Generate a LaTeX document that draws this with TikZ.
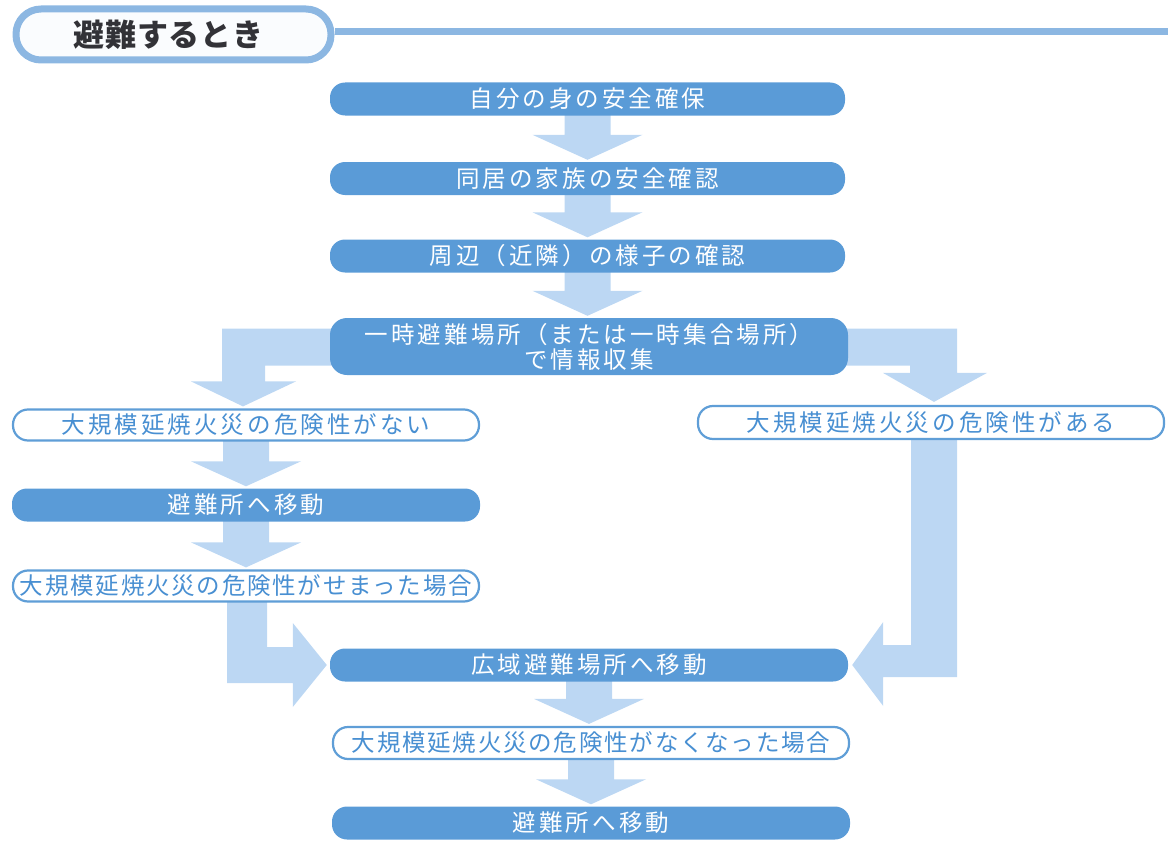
\documentclass[tikz,border=0pt]{standalone}
\usepackage{fontspec}
\newfontfamily\jp[LetterSpace=13]{Noto Sans CJK JP}
\newfontfamily\jpnarrow[LetterSpace=7.5]{Noto Sans CJK JP}
\newfontfamily\jptitle[LetterSpace=3]{Noto Sans CJK JP}
\usetikzlibrary{calc,backgrounds,shadows}
\definecolor{boxblue}{RGB}{90,155,215}
\definecolor{arrowblue}{RGB}{188,215,243}
\definecolor{lineblue}{RGB}{95,158,215}
\definecolor{textblue}{RGB}{72,143,210}
\definecolor{titleblue}{RGB}{140,183,226}
\definecolor{titletext}{RGB}{50,50,55}
\tikzset{
  filledbox/.style={rounded corners=15pt, fill=boxblue, text=white, inner sep=0pt,
    font=\jp\fontsize{23.5}{25}\selectfont, minimum height=33pt, align=center},
  outlinebox/.style={rounded corners=15pt, draw=lineblue, line width=2.2pt, fill=white,
    text=textblue, inner sep=0pt, font=\jp\fontsize{23.5}{25}\selectfont, minimum height=31pt},
  longtext/.style={font=\jpnarrow\fontsize{23.5}{25}\selectfont},
  fat/.style={fill=arrowblue},
  titlepill/.style={rounded corners=25pt, draw=titleblue, line width=7pt, fill=white!96!titleblue,
    text=titletext, font=\jptitle\bfseries\fontsize{31}{33}\selectfont, inner sep=0pt,
    drop shadow={shadow xshift=0pt, shadow yshift=-3pt, opacity=0.25, fill=gray}}
}
\newcommand{\fatdown}[2]{%
  \fill[fat] let \p1=(#1.south), \p2=(#2.north) in
    (\x1-23pt,\y1+1pt) -- (\x1+23pt,\y1+1pt) -- (\x1+23pt,\y2+27pt) -- (\x1+55pt,\y2+27pt)
    -- (\x1,\y2+2pt) -- (\x1-55pt,\y2+27pt) -- (\x1-23pt,\y2+27pt) -- cycle;}
\begin{document}
\begin{tikzpicture}[x=1pt,y=1pt]
\useasboundingbox (0,0) rectangle (1168,-843);

% title
\node[titlepill, minimum width=315pt, minimum height=51pt] (title) at (173.5,-34.5) {\raisebox{1pt}{避難するとき}\hspace*{10pt}};
\coordinate (lineend) at (1168,-32);
\draw[titleblue, line width=7pt] (title.east |- lineend) -- (lineend);

% main column
\node[filledbox, minimum width=515pt] (b1) at (587.5,-99) {自分の身の安全確保};
\node[filledbox, minimum width=515pt] (b2) at (587.5,-178.5) {同居の家族の安全確認};
\node[filledbox, minimum width=515pt] (b3) at (587.5,-256) {周辺（近隣）の様子の確認};
\node[filledbox, minimum width=518pt, minimum height=57pt, rounded corners=17pt] (b4) at (589,-346.5)
  {一時避難場所（または一時集合場所）\\で情報収集};

% left column
\node[outlinebox, minimum width=466pt] (l1) at (246,-425) {大規模延焼火災の危険性がない};
\node[filledbox, minimum width=468pt] (l2) at (246,-505) {避難所へ移動};
\node[outlinebox, longtext, minimum width=466pt] (l3) at (246,-586) {大規模延焼火災の危険性がせまった場合};

% right column
\node[outlinebox, minimum width=466pt, minimum height=33pt] (r1) at (931,-422.5) {大規模延焼火災の危険性がある};

% lower column
\node[filledbox, minimum width=518pt] (b5) at (589,-665) {広域避難場所へ移動};
\node[outlinebox, longtext, minimum width=516pt, minimum height=32pt] (b6) at (591,-743) {大規模延焼火災の危険性がなくなった場合};
\node[filledbox, minimum width=518pt] (b7) at (591,-823) {避難所へ移動};

\begin{scope}[on background layer]
  \fatdown{b1}{b2}
  \fatdown{b2}{b3}
  \fatdown{b3}{b4}
  \fatdown{l1}{l2}
  \fatdown{l2}{l3}
  \fatdown{b5}{b6}
  \fatdown{b6}{b7}
  % left branch from b4
  \fill[fat] let \p1=(b4.west), \p2=(l1.north) in
    (\x1+12pt,\y1+18pt) -- (\x2-24pt,\y1+18pt) -- (\x2-24pt,\y2+27pt) -- (\x2-55pt,\y2+27pt)
    -- (\x2-3pt,\y2+2pt) -- (\x2+50pt,\y2+27pt) -- (\x2+19pt,\y2+27pt) -- (\x2+19pt,\y1-19pt)
    -- (\x1+12pt,\y1-19pt) -- cycle;
  % right branch from b4
  \fill[fat] let \p1=(b4.east), \p2=(r1.north) in
    (\x1-12pt,\y1+18pt) -- (\x2+26pt,\y1+18pt) -- (\x2+26pt,\y2+32pt) -- (\x2+56pt,\y2+32pt)
    -- (\x2+3pt,\y2+3pt) -- (\x2-48pt,\y2+32pt) -- (\x2-21pt,\y2+32pt) -- (\x2-21pt,\y1-19pt)
    -- (\x1-12pt,\y1-19pt) -- cycle;
  % left lower L into b5
  \fill[fat] let \p1=(l3.south), \p2=(b5.west) in
    (\x1-19pt,\y1+1pt) -- (\x1-19pt,\y2-18pt) -- (\x2-37pt,\y2-18pt) -- (\x2-37pt,\y2-42pt)
    -- (\x2-3pt,\y2) -- (\x2-37pt,\y2+42pt) -- (\x2-37pt,\y2+18pt) -- (\x1+21pt,\y2+18pt)
    -- (\x1+21pt,\y1+1pt) -- cycle;
  % right lower L into b5
  \fill[fat] let \p1=(r1.south), \p2=(b5.east) in
    (\x1+26pt,\y1+1pt) -- (\x1+26pt,\y2-12pt) -- (\x2+35pt,\y2-12pt) -- (\x2+35pt,\y2-41pt)
    -- (\x2+4pt,\y2) -- (\x2+35pt,\y2+43pt) -- (\x2+35pt,\y2+20pt) -- (\x1-20pt,\y2+20pt)
    -- (\x1-20pt,\y1+1pt) -- cycle;
\end{scope}
\end{tikzpicture}
\end{document}
